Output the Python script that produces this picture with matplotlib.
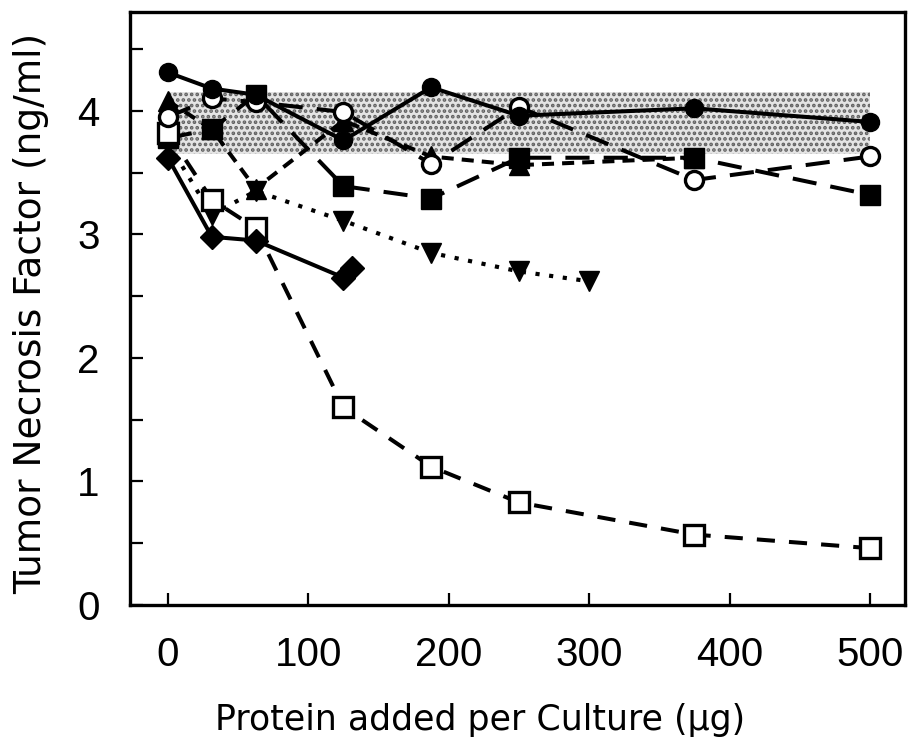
import matplotlib
matplotlib.use('Agg')
import matplotlib.pyplot as plt

# ---- data ----
x_dose = [0, 31.25, 62.5, 125, 187.5, 250, 375, 500]
filled_circle = [4.31, 4.18, 4.13, 3.76, 4.19, 3.96, 4.02, 3.91]
open_circle = [3.95, 4.10, 4.07, 3.99, 3.57, 4.03, 3.44, 3.63]
filled_square = [3.78, 3.85, 4.13, 3.39, 3.29, 3.62, 3.62, 3.32]
open_square = [3.82, 3.28, 3.05, 1.60, 1.12, 0.83, 0.57, 0.46]

x_tri_up = [0, 31.25, 62.5, 125, 187.5, 250, 375]
tri_up = [4.08, 3.85, 3.37, 3.92, 3.63, 3.56, 3.62]

x_tri_down = [0, 31.25, 62.5, 125, 187.5, 250, 300]
tri_down = [3.74, 3.16, 3.35, 3.11, 2.85, 2.70, 2.62]

x_diamond = [0, 31.25, 62.5, 125, 131]
diamond = [3.62, 2.98, 2.95, 2.65, 2.73]

# normal range band
band_x = [0, 500]
band_low = 3.65
band_high = 4.15

x_ticks = [0, 100, 200, 300, 400, 500]
y_ticks = [0, 0.5, 1, 1.5, 2, 2.5, 3, 3.5, 4, 4.5]
y_ticklabels = ['0', '', '1', '', '2', '', '3', '', '4', '']

plt.rcParams['font.family'] = ['Liberation Sans', 'DejaVu Sans']
plt.rcParams['hatch.linewidth'] = 1.8

fig = plt.figure(figsize=(9.08, 7.46), dpi=100)
ax = fig.add_axes([0.1432, 0.189, 0.8535, 0.795])

ax.fill_between(band_x, band_low, band_high, facecolor='#e4e4e4',
                edgecolor='#606060', hatch='...', linewidth=0, zorder=1)

lw = 2.9
ax.plot(x_dose, filled_square, color='black', lw=lw, dashes=(6, 3.5),
        marker='s', ms=14, mfc='black', mec='black', zorder=3)
ax.plot(x_tri_up, tri_up, color='black', lw=lw, dashes=(3, 2),
        marker='^', ms=14, mfc='black', mec='black', zorder=3)
ax.plot(x_dose, open_circle, color='black', lw=lw, dashes=(6, 3.5),
        marker='o', ms=13, mfc='white', mec='black', mew=2.4, zorder=4)
ax.plot(x_dose, filled_circle, color='black', lw=lw, linestyle='-',
        marker='o', ms=13, mfc='black', mec='black', zorder=4)
ax.plot(x_tri_down, tri_down, color='black', lw=3, linestyle=(0, (1, 2.3)),
        marker='v', ms=14, mfc='black', mec='black', zorder=3)
ax.plot(x_dose, open_square, color='black', lw=lw, dashes=(4.5, 3.5),
        marker='s', ms=14, mfc='white', mec='black', mew=2.4, zorder=3)
ax.plot(x_diamond, diamond, color='black', lw=lw, linestyle='-',
        marker='D', ms=12, mfc='black', mec='black', zorder=4)

ax.set_xlim(-27, 525)
ax.set_ylim(0.04, 4.8)
ax.set_xticks(x_ticks)
ax.set_yticks(y_ticks)
ax.set_yticklabels(y_ticklabels)

ax.tick_params(direction='in', length=9, width=1.6, labelsize=29)
ax.tick_params(axis='x', pad=22)
ax.tick_params(axis='y', pad=22)
for s in ax.spines.values():
    s.set_linewidth(2.4)

ax.set_xlabel('Protein added per Culture (\u00b5g)', fontsize=25, family='DejaVu Sans')
ax.set_ylabel('Tumor Necrosis Factor (ng/ml)', fontsize=27, family='DejaVu Sans')
ax.xaxis.set_label_coords(0.452, -0.165)
ax.yaxis.set_label_coords(-0.104, 0.492)

fig.savefig('out.png', dpi=100)
